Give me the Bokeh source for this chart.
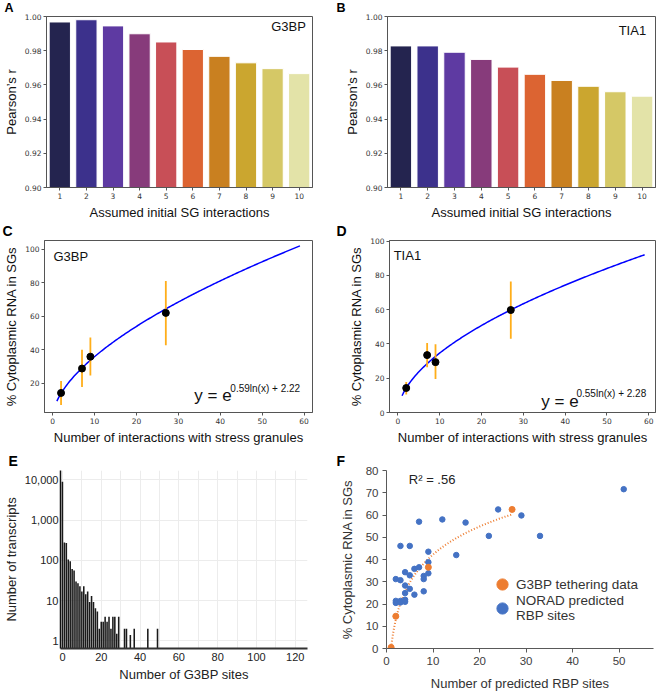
import numpy as np
from bokeh.plotting import figure
from bokeh.models import (Range1d, NumeralTickFormatter, Label, Legend, LegendItem,
                          SingleIntervalTicker, FixedTicker, Title)
from bokeh.layouts import column, row
from bokeh.embed import file_html
from bokeh.resources import INLINE

# ---------------- data ----------------
# Panels A / B
interactions = [1, 2, 3, 4, 5, 6, 7, 8, 9, 10]
pearson_g3bp = [0.9968, 0.9981, 0.9945, 0.9899, 0.9851, 0.9807, 0.9767, 0.9729, 0.9695, 0.9666]
pearson_tia1 = [0.9828, 0.9828, 0.9791, 0.9749, 0.9704, 0.9662, 0.9626, 0.9592, 0.9560, 0.9534]
bar_colors = ["#24244f", "#3c318c", "#5e3aa2", "#873b7b", "#c84f57",
              "#dc6432", "#c98020", "#cba62f", "#d5c866", "#e3e3a8"]
pearson_ticks = [0.90, 0.92, 0.94, 0.96, 0.98, 1.00]

# Panels C / D
tether_sites = [2, 7, 9, 27]
g3bp_pct = [14.1, 28.7, 35.8, 62.0]
g3bp_lo = [6.9, 17.6, 24.6, 42.6]
g3bp_hi = [21.2, 40.0, 47.3, 81.0]
tia1_pct = [14.3, 33.5, 29.4, 59.8]
tia1_lo = [10.5, 26.4, 19.5, 43.0]
tia1_hi = [17.8, 40.5, 39.8, 76.5]
g3bp_fit = (0.59, 2.22)   # y = exp(a*ln(x) + b)
tia1_fit = (0.55, 2.28)
fit_span = (1, 59)
cd_xticks = [0, 10, 20, 30, 40, 50, 60]
c_yticks = [20, 40, 60, 80, 100]
d_yticks = [0, 20, 40, 60, 80, 100]

# Panel E
g3bp_site_counts_x = list(range(0, 30)) + [32, 33, 35, 37, 44, 49]
g3bp_site_counts = [9000, 280, 270, 105, 96, 61, 56, 30, 27, 23,
                    17, 23, 14.5, 17, 9.3, 13, 9.3, 6.5, 5.4, 2,
                    3, 3, 4, 3, 4, 2, 4, 4, 1.5, 4,
                    2, 2, 1.4, 2, 2, 2]
e_yticks = [1, 10, 100, 1000, 10000]
e_xticks = [0, 20, 40, 60, 80, 100, 120]

# Panel F
norad_sites = [51, 24, 29, 7, 12, 17, 22, 33, 15, 3, 5, 9, 9, 9, 4, 5, 6, 7, 8, 8,
               2, 3, 4, 5, 4, 8, 6, 2, 2, 3, 3, 4, 4]
norad_pct = [71.6, 62.5, 59.8, 57.0, 58.0, 56.6, 50.6, 50.6, 42.0, 46.1, 46.1, 43.5, 38.8, 33.8,
             34.3, 32.9, 35.8, 36.5, 32.6, 31.2, 31.2, 30.7, 28.3, 26.8, 24.9, 25.7, 24.2,
             21.4, 20.5, 21.4, 20.7, 21.9, 21.0]
tether_sites_f = [1, 2, 9, 27]
tether_pct_f = [0.5, 14.5, 36.5, 62.5]
f_xticks = [0, 10, 20, 30, 40, 50]
f_yticks = [0, 10, 20, 30, 40, 50, 60, 70, 80]

# ---------------- styling helpers ----------------
SANS = "Liberation Sans"
TICKF = "DejaVu Sans"
WL, WR = 330, 329
H1, H2, H3 = 222, 230, 241


def letter(p, txt, offset, size="14px"):
    p.add_layout(Title(text=txt, align="left", offset=offset, standoff=0,
                       text_font=SANS, text_font_style="bold", text_font_size=size,
                       text_color="black", text_line_height=0.8, vertical_align="top"), "above")


def mpl_style(p):
    p.grid.visible = False
    p.outline_line_color = "#555555"
    for ax in (p.xaxis, p.yaxis):
        ax.axis_line_color = "#555555"
        ax.major_tick_line_color = "#555555"
        ax.major_tick_out = 3
        ax.major_tick_in = 0
        ax.minor_tick_line_color = None
        ax.major_label_text_font = TICKF
        ax.major_label_text_font_size = "7.5px"
        ax.major_label_text_color = "#333333"
        ax.major_label_standoff = 2
        ax.axis_label_text_font = SANS
        ax.axis_label_text_font_size = "13px"
        ax.axis_label_text_font_style = "normal"
        ax.axis_label_text_color = "#111111"
        ax.axis_label_standoff = 3


def bar_panel(vals, name, name_x, name_y, w, h, mb):
    p = figure(width=w, height=h, output_backend="svg", toolbar_location=None,
               x_range=Range1d(0.5, 10.5), y_range=Range1d(pearson_ticks[0], pearson_ticks[-1]),
               min_border_left=mb[0], min_border_right=mb[1],
               min_border_top=mb[2], min_border_bottom=mb[3])
    p.vbar(x=interactions, top=vals, bottom=pearson_ticks[0], width=0.8,
           fill_color=bar_colors, line_color="white", line_width=1)
    mpl_style(p)
    p.xaxis.ticker = FixedTicker(ticks=interactions)
    p.yaxis.ticker = FixedTicker(ticks=pearson_ticks)
    p.yaxis.formatter = NumeralTickFormatter(format="0.00")
    p.xaxis.axis_label = "Assumed initial SG interactions"
    p.yaxis.axis_label = "Pearson\u2019s r"
    p.add_layout(Label(x=name_x, y=name_y, text=name, text_font=SANS, text_font_size="13px",
                       text_align="right", text_baseline="top", text_color="#111111"))
    return p


def curve_panel(pct, lo, hi, fit, name, name_pos, eq_pos, sup_pos, xr, yr, yt, w, h, mb):
    p = figure(width=w, height=h, output_backend="svg", toolbar_location=None,
               x_range=Range1d(*xr), y_range=Range1d(*yr),
               min_border_left=mb[0], min_border_right=mb[1],
               min_border_top=mb[2], min_border_bottom=mb[3])
    xs = np.linspace(fit_span[0], fit_span[1], 200)
    ys = np.exp(fit[0] * np.log(xs) + fit[1])
    p.line(xs, ys, line_color="#0000ff", line_width=1.5)
    p.segment(x0=tether_sites, y0=lo, x1=tether_sites, y1=hi, line_color="#ffae1a", line_width=1.8)
    p.scatter(tether_sites, pct, size=7, color="black")
    mpl_style(p)
    p.xaxis.ticker = FixedTicker(ticks=cd_xticks)
    p.yaxis.ticker = FixedTicker(ticks=yt)
    p.xaxis.axis_label = "Number of interactions with stress granules"
    p.yaxis.axis_label = "% Cytoplasmic RNA in SGs"
    p.add_layout(Label(x=name_pos[0], y=name_pos[1], text=name, text_font=SANS,
                       text_font_size="13px", text_baseline="top", text_color="#111111"))
    p.add_layout(Label(x=eq_pos[0], y=eq_pos[1], text="y = e", text_font=SANS,
                       text_font_size="17px", text_baseline="alphabetic", text_color="#111111"))
    p.add_layout(Label(x=sup_pos[0], y=sup_pos[1],
                       text=f"{fit[0]:.2f}ln(x) + {fit[1]:.2f}", text_font=SANS,
                       text_font_size="10px", text_baseline="alphabetic", text_color="#111111"))
    return p


# ---------------- A, B ----------------
pa = bar_panel(pearson_g3bp, "G3BP", 10.25, 0.9983, WL, H1, (44, 18, 10, 35))
letter(pa, "A", -42, "12.5px")
pb = bar_panel(pearson_tia1, "TIA1", 10.15, 0.9962, WR, H1, (57, 4, 10, 35))
letter(pb, "B", -51, "12.5px")

# ---------------- C, D ----------------
pc = curve_panel(g3bp_pct, g3bp_lo, g3bp_hi, g3bp_fit, "G3BP", (0.2, 100.0), (33.8, 12.5), (42.4, 16.6),
                 (-1.95, 62.0), (2.4, 105.3), c_yticks, WL, H2, (44, 18, 16, 40))
letter(pc, "C", -42)
pd = curve_panel(tia1_pct, tia1_lo, tia1_hi, tia1_fit, "TIA1", (-1.0, 95.8), (34.3, 6.5), (42.7, 10.9),
                 (-2.0, 61.6), (0, 100.4), d_yticks, WR, H2, (59, 4, 15, 40))
letter(pd, "D", -53)

# ---------------- E ----------------
e_bottom = 0.65
pe = figure(width=WL, height=H3, output_backend="svg", toolbar_location=None,
            y_axis_type="log", x_range=Range1d(-1, 126.3), y_range=Range1d(e_bottom, 17100),
            min_border_left=54, min_border_right=23, min_border_top=15, min_border_bottom=37)
pe.vbar(x=g3bp_site_counts_x, top=g3bp_site_counts, bottom=e_bottom, width=0.8,
        fill_color="#1a1a1a", line_color=None)
pe.outline_line_color = None
pe.xgrid.ticker = SingleIntervalTicker(interval=10)
pe.xgrid.grid_line_color = "#ececec"
pe.ygrid.grid_line_color = "#ececec"
pe.xaxis.ticker = FixedTicker(ticks=e_xticks)
pe.yaxis.ticker = FixedTicker(ticks=e_yticks)
pe.yaxis.formatter = NumeralTickFormatter(format="0,0")
pe.xaxis.axis_line_color = "#333333"
pe.xaxis.axis_line_width = 2
pe.yaxis.axis_line_color = "#111111"
pe.yaxis.axis_line_width = 1.5
for ax in (pe.xaxis, pe.yaxis):
    ax.major_tick_line_color = None
    ax.major_tick_out = 0
    ax.major_tick_in = 0
    ax.minor_tick_line_color = None
    ax.major_label_text_font = SANS
    ax.major_label_text_font_size = "11px"
    ax.major_label_text_color = "#222222"
    ax.major_label_standoff = 4
    ax.axis_label_text_font = SANS
    ax.axis_label_text_font_size = "13px"
    ax.axis_label_text_font_style = "normal"
    ax.axis_label_text_color = "#222222"
    ax.axis_label_standoff = 3
pe.yaxis.major_label_standoff = 2
pe.xaxis.axis_label = "Number of G3BP sites"
pe.yaxis.axis_label = "Number of transcripts"
letter(pe, "E", -52)

# ---------------- F ----------------
pf = figure(width=WR, height=H3, output_backend="svg", toolbar_location=None,
            x_range=Range1d(0, 57.4), y_range=Range1d(f_yticks[0], f_yticks[-1]),
            min_border_left=56, min_border_right=6, min_border_top=18, min_border_bottom=42)
sf = np.array(tether_sites_f, dtype=float)
A = np.vstack([np.log(sf), np.ones_like(sf)]).T
coef, *_ = np.linalg.lstsq(A, np.array(tether_pct_f), rcond=None)
tx = np.linspace(tether_sites_f[0], tether_sites_f[-1], 150)
pf.line(tx, coef[0] * np.log(tx) + coef[1], line_color="#ED7D31", line_width=2, line_dash="1 2")
r_blue = pf.scatter(norad_sites, norad_pct, size=5.5, color="#4472C4")
r_or = pf.scatter(tether_sites_f, tether_pct_f, size=6, color="#ED7D31")
pf.grid.visible = False
pf.outline_line_color = None
pf.xaxis.ticker = FixedTicker(ticks=f_xticks)
pf.yaxis.ticker = FixedTicker(ticks=f_yticks)
for ax in (pf.xaxis, pf.yaxis):
    ax.axis_line_color = "#595959"
    ax.major_tick_line_color = "#595959"
    ax.major_tick_out = 4
    ax.major_tick_in = 0
    ax.minor_tick_line_color = None
    ax.major_label_text_font = SANS
    ax.major_label_text_font_size = "11.5px"
    ax.major_label_text_color = "#404040"
    ax.major_label_standoff = 4
    ax.axis_label_text_font = SANS
    ax.axis_label_text_font_size = "13px"
    ax.axis_label_text_font_style = "normal"
    ax.axis_label_text_color = "#333333"
    ax.axis_label_standoff = 8
pf.xaxis.axis_label = "Number of predicted RBP sites"
pf.yaxis.axis_label = "% Cytoplasmic RNA in SGs"
pf.add_layout(Label(x=4.8, y=79.5, text="R\u00b2 = .56", text_font=SANS, text_font_size="13px",
                    text_baseline="top", text_color="#222222"))
leg_common = dict(glyph_width=28, glyph_height=28, label_standoff=0, spacing=0, padding=0, margin=0,
                  border_line_color=None, background_fill_alpha=0, label_text_font=SANS,
                  label_text_font_size="13.5px", label_text_color="#333333",
                  label_text_line_height=1.0)
leg1 = Legend(items=[LegendItem(label="G3BP tethering data", renderers=[r_or])],
              location=(102, 50), **leg_common)
leg2 = Legend(items=[LegendItem(label="NORAD predicted\nRBP sites", renderers=[r_blue])],
              location=(102, 25), **leg_common)
pf.add_layout(leg1)
pf.add_layout(leg2)
letter(pf, "F", -50)

layout = column(row(pa, pb), row(pc, pd), row(pe, pf))
open("out.html", "w").write(file_html(layout, INLINE))
